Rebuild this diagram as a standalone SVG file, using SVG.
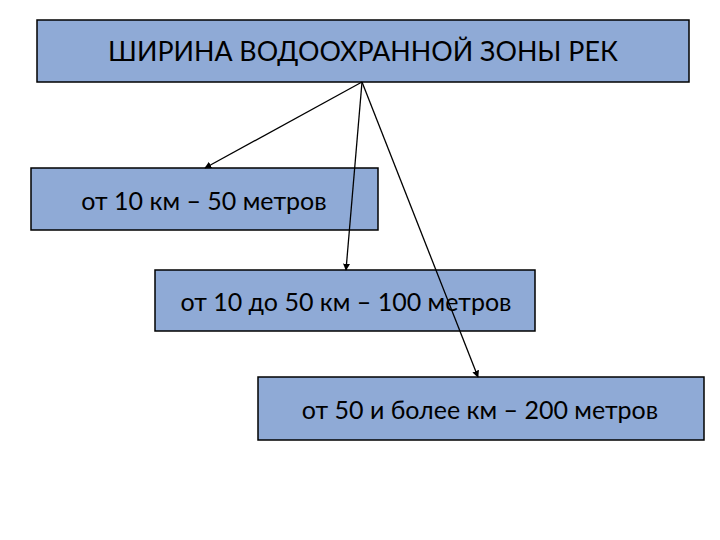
<svg xmlns="http://www.w3.org/2000/svg" width="720" height="540" viewBox="0 0 720 540">
<style>
.box{fill:#8FAAD6;stroke:#000;stroke-width:1.5}
.t{font-family:Lato,"Liberation Sans",sans-serif;font-size:25px;fill:#000;text-anchor:middle;dominant-baseline:central}
.h{font-size:26.8px}
.c{stroke:#000;stroke-width:1.3;fill:none;marker-end:url(#ah)}
</style>
<defs>
<marker id="ah" viewBox="0 0 10 10" refX="9" refY="5" markerWidth="7" markerHeight="7" markerUnits="userSpaceOnUse" orient="auto">
<path d="M0,0 L10,5 L0,10 z" fill="#000"/>
</marker>
</defs>
<rect width="720" height="540" fill="#fff"/>
<g id="title">
<rect class="box" x="37" y="20" width="652" height="62"/>
<text class="t h" x="363" y="51">ШИРИНА ВОДООХРАННОЙ ЗОНЫ РЕК</text>
</g>
<g id="n1">
<rect class="box" x="31" y="168" width="347" height="62"/>
<text class="t" x="204" y="200">от 10 км – 50 метров</text>
</g>
<g id="n2">
<rect class="box" x="155" y="270" width="380" height="61"/>
<text class="t" x="346" y="301">от 10 до 50 км – 100 метров</text>
</g>
<g id="n3">
<rect class="box" x="258" y="377" width="446" height="63"/>
<text class="t" x="480" y="409">от 50 и более км – 200 метров</text>
</g>
<g id="connectors">
<line class="c" x1="362" y1="82" x2="205" y2="168"/>
<line class="c" x1="362" y1="82" x2="346" y2="270"/>
<line class="c" x1="362" y1="82" x2="478" y2="377"/>
</g>
</svg>
